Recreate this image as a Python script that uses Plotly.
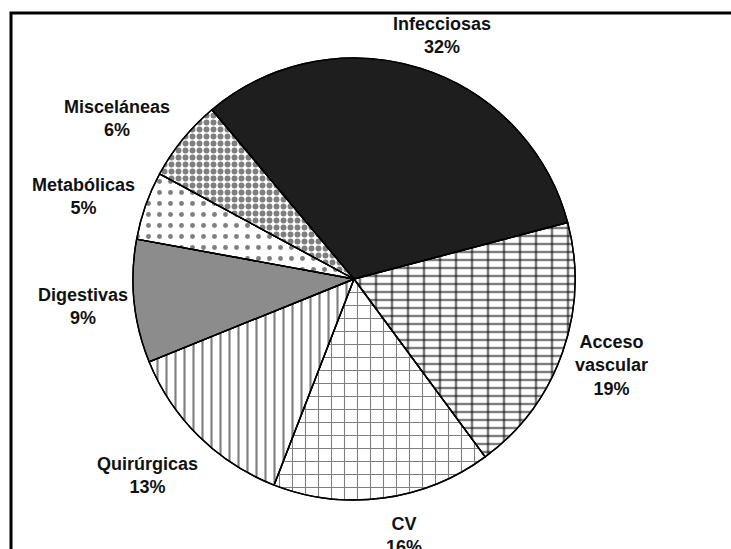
import plotly.graph_objects as go

# ---- data ----
categories = ["Infecciosas", "Acceso vascular", "CV", "Quirúrgicas", "Digestivas", "Metabólicas", "Misceláneas"]
values = [32, 19, 16, 13, 9, 5, 6]
label_text = ["Infecciosas<br>32%", "Acceso<br>vascular<br>19%", "CV<br>16%", "Quirúrgicas<br>13%",
              "Digestivas<br>9%", "Metabólicas<br>5%", "Misceláneas<br>6%"]

# ---- styling ----
W, H = 731, 549
fill_colors = ["#1e1e1e", "white", "white", "white", "#8c8c8c", "white", "white"]
shapes = ["", "-", "+", "|", "", ".", "."]
sizes = [8, 8, 13, 9, 8, 11, 7]
solid = [0.3, 0.3, 0.16, 0.24, 0.3, 0.16, 0.55]

cx, cy, r = 354, 279, 221
dom_x = [(cx - r) / W, (cx + r) / W]
dom_y = [1 - (cy + r) / H, 1 - (cy - r) / H]

fig = go.Figure()
fig.add_trace(go.Pie(
    labels=categories, values=values, sort=False, direction="clockwise", rotation=-40,
    textinfo="none", hoverinfo="label+percent", showlegend=False,
    domain=dict(x=dom_x, y=dom_y),
    marker=dict(colors=fill_colors, line=dict(color="black", width=1.4),
                pattern=dict(shape=shapes, size=sizes, solidity=solid,
                             fgcolor="black", bgcolor=fill_colors, fillmode="overlay")),
))
# second layer: vertical joints for the brick pattern of "Acceso vascular"
fig.add_trace(go.Pie(
    labels=categories, values=values, sort=False, direction="clockwise", rotation=-40,
    textinfo="none", hoverinfo="skip", showlegend=False,
    domain=dict(x=dom_x, y=dom_y),
    marker=dict(colors=["rgba(0,0,0,0)"] * len(values), line=dict(color="black", width=1.4),
                pattern=dict(shape=["", "|", "", "", "", "", ""], size=16, solidity=0.16,
                             fgcolor="black", bgcolor="rgba(0,0,0,0)", fillmode="overlay")),
))

# label positions (pixels)
label_px = [(442, 36), (611, 365), (404, 535), (147, 475), (83, 306), (83, 196), (117, 119)]
annotations = []
for txt, (px, py) in zip(label_text, label_px):
    annotations.append(dict(x=px / W, y=1 - py / H, xref="paper", yref="paper", text="<b>" + txt.replace("<br>", "</b><br><b>") + "</b>",
                            showarrow=False, xanchor="center", yanchor="middle", align="center",
                            font=dict(family="Liberation Sans, Arial", size=18, color="#111")))

fig.update_layout(
    width=W, height=H, margin=dict(l=0, r=0, t=0, b=0),
    paper_bgcolor="white", plot_bgcolor="white",
    annotations=annotations,
    shapes=[dict(type="rect", xref="paper", yref="paper", x0=11 / W, x1=1.05, y0=-0.05, y1=1 - 13 / H,
                 line=dict(color="black", width=3), fillcolor="rgba(0,0,0,0)")],
)
fig.write_html("out.html")
